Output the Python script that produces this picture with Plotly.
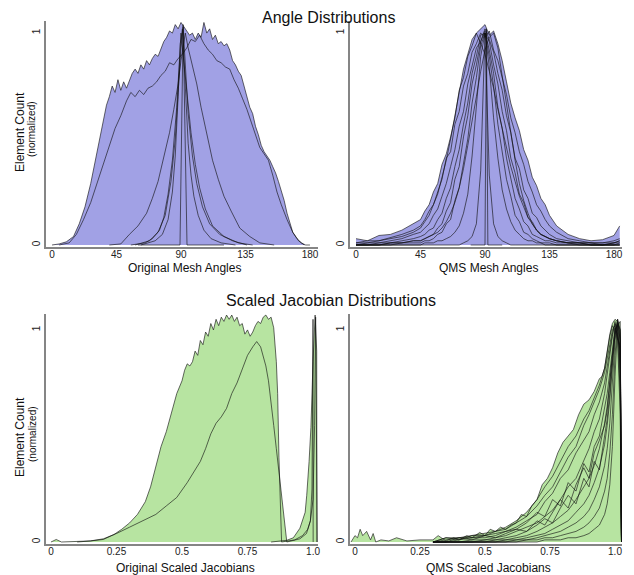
import plotly.graph_objects as go

# ---------------- Top-left: Original Mesh Angles ----------------
TL_A_X = [0, 5, 10, 15, 19, 23, 27, 30, 33, 36,
          38, 40, 42, 44, 46, 48, 50, 52, 54, 56, 58, 60,
          62, 64, 66, 68, 70, 72, 74, 76, 78, 80, 82, 84, 86, 88, 90, 92, 94, 96, 98, 100,
          102, 104, 106, 108, 110, 112, 114, 116, 118, 120, 122, 124, 126, 128, 130, 132, 134, 136, 138, 140,
          142, 144, 146, 148, 150, 152, 154, 156, 158, 160, 162, 164, 166, 168,
          171, 174, 177, 180]
TL_A_Y = [0, 0.005, 0.015, 0.04, 0.1, 0.18, 0.29, 0.39, 0.5, 0.6,
          0.66, 0.7, 0.75, 0.72, 0.78, 0.73, 0.77, 0.74, 0.78, 0.81, 0.83, 0.81,
          0.85, 0.83, 0.87, 0.85, 0.88, 0.9, 0.89, 0.93, 0.96, 0.98, 1.01, 1.0, 1.04, 1.02, 1.05, 1.03, 1.01, 0.99, 1.0, 0.97,
          1.0, 0.98, 1.05, 1.0, 1.02, 0.97, 0.99, 0.95, 0.96, 0.94, 0.95, 0.92, 0.87, 0.85, 0.82, 0.8, 0.75, 0.7, 0.65, 0.62,
          0.56, 0.52, 0.47, 0.44, 0.42, 0.4, 0.37, 0.34, 0.3, 0.26, 0.21, 0.15, 0.1, 0.06,
          0.03, 0.01, 0.0, 0.0]
TL_B_X = [5, 12, 17, 22, 27, 32, 36, 40, 44, 48, 52, 55, 58, 61, 64, 67, 70, 73, 76, 79,
          82, 85, 88, 91, 94, 97, 100, 103, 106, 109, 112, 115, 118, 121, 124, 127, 130, 133, 136, 139,
          142, 145, 148, 151, 154, 157, 160, 164, 168, 172, 176]
TL_B_Y = [0, 0.01, 0.05, 0.12, 0.2, 0.3, 0.38, 0.46, 0.55, 0.61, 0.68, 0.72, 0.7, 0.73, 0.71, 0.74, 0.75, 0.77, 0.8, 0.82,
          0.86, 0.85, 0.88, 0.9, 0.93, 0.97, 0.96, 0.99, 0.95, 0.92, 0.9, 0.87, 0.86, 0.84, 0.83, 0.78, 0.74, 0.69, 0.64, 0.58,
          0.52, 0.46, 0.43, 0.4, 0.33, 0.25, 0.19, 0.12, 0.06, 0.02, 0]
TL_C_X = [40, 48, 54, 60, 66, 70, 74, 78, 82, 85, 88, 90, 92, 93, 95, 98, 101, 104, 108, 112, 116, 120, 125, 131, 138, 145, 155]
TL_C_Y = [0, 0.005, 0.05, 0.09, 0.15, 0.22, 0.3, 0.42, 0.53, 0.64, 0.76, 0.87, 0.95, 1.0, 0.93, 0.84, 0.76, 0.65, 0.53, 0.4,
          0.31, 0.23, 0.16, 0.08, 0.04, 0.01, 0]
TL_D_X = [55, 65, 70, 75, 78, 81, 84, 87, 89, 90, 91, 93, 95, 97, 100, 103, 107, 112, 120, 130, 140]
TL_D_Y = [0, 0.01, 0.03, 0.07, 0.13, 0.24, 0.4, 0.65, 0.88, 1.0, 0.93, 0.8, 0.66, 0.53, 0.38, 0.27, 0.17, 0.09, 0.04, 0.01, 0]
TL_E_X = [62, 72, 77, 81, 84, 86, 88, 89.5, 91, 92, 93.5, 95, 97, 99, 102, 106, 111, 118, 128]
TL_E_Y = [0, 0.02, 0.05, 0.12, 0.25, 0.42, 0.7, 0.95, 1.02, 0.9, 0.66, 0.48, 0.33, 0.23, 0.14, 0.07, 0.03, 0.01, 0]
TL_F_X = [58, 68, 74, 79, 83, 86, 88, 90, 91.5, 93, 95, 98, 101, 105, 110, 117, 126, 136]
TL_F_Y = [0, 0.02, 0.06, 0.14, 0.3, 0.5, 0.72, 0.93, 1.03, 0.85, 0.62, 0.42, 0.29, 0.18, 0.1, 0.05, 0.02, 0]
TL_G_X = [60, 89.3, 91.5, 94.2, 120]
TL_G_Y = [0, 0.0, 1.04, 0.0, 0]

# ---------------- Top-right: QMS Mesh Angles ----------------
TR_X = [0, 8, 16, 24, 32, 40, 45, 48, 51, 54, 57, 60, 63, 66, 69, 72, 75, 78, 81, 84, 87, 90,
        93, 96, 99, 102, 105, 108, 111, 114, 117, 120, 123, 126, 129, 132, 135, 140, 148, 156, 164, 172, 180, 184]
TR_1 = [0.03, 0.02, 0.045, 0.05, 0.07, 0.1, 0.12, 0.16, 0.19, 0.25, 0.29, 0.38, 0.43, 0.51, 0.6, 0.73, 0.79, 0.89, 0.94, 1.0,
        1.02, 1.04, 0.99, 1.01, 0.95, 0.87, 0.77, 0.67, 0.6, 0.54, 0.45, 0.4, 0.32, 0.28, 0.22, 0.19, 0.14, 0.09, 0.05, 0.03,
        0.02, 0.025, 0.045, 0.09]
TR_2 = [0.01, 0.02, 0.02, 0.035, 0.05, 0.07, 0.09, 0.12, 0.16, 0.19, 0.25, 0.31, 0.41, 0.44, 0.57, 0.63, 0.75, 0.81, 0.91, 0.95,
        1.0, 0.98, 1.01, 0.92, 0.87, 0.79, 0.71, 0.6, 0.53, 0.44, 0.38, 0.3, 0.25, 0.19, 0.16, 0.12, 0.09, 0.06, 0.03, 0.02,
        0.01, 0.01, 0.02, 0.03]
TR_3 = [0.0, 0.01, 0.01, 0.02, 0.03, 0.05, 0.06, 0.08, 0.1, 0.14, 0.17, 0.23, 0.29, 0.37, 0.45, 0.56, 0.63, 0.76, 0.84, 0.93,
        0.96, 1.02, 0.97, 0.91, 0.81, 0.73, 0.61, 0.53, 0.41, 0.36, 0.26, 0.22, 0.15, 0.13, 0.09, 0.07, 0.05, 0.03, 0.02, 0.01,
        0.01, 0.0, 0.01, 0.02]
TR_4 = [0, 0, 0.01, 0.01, 0.02, 0.03, 0.04, 0.05, 0.07, 0.08, 0.12, 0.15, 0.22, 0.27, 0.37, 0.45, 0.57, 0.67, 0.81, 0.89,
        0.99, 1.0, 0.96, 0.85, 0.76, 0.63, 0.54, 0.41, 0.34, 0.24, 0.2, 0.13, 0.11, 0.07, 0.05, 0.04, 0.03, 0.02, 0.01, 0.01,
        0, 0, 0.01, 0.01]
TR_5 = [0, 0, 0, 0.01, 0.01, 0.02, 0.02, 0.03, 0.04, 0.05, 0.08, 0.1, 0.16, 0.2, 0.31, 0.37, 0.51, 0.61, 0.76, 0.85,
        0.96, 1.01, 0.92, 0.81, 0.65, 0.55, 0.41, 0.32, 0.22, 0.17, 0.11, 0.09, 0.05, 0.04, 0.03, 0.02, 0.02, 0.01, 0.01, 0,
        0, 0, 0, 0]
TR_6 = [0, 0, 0, 0, 0.01, 0.01, 0.01, 0.02, 0.02, 0.03, 0.05, 0.06, 0.1, 0.12, 0.21, 0.27, 0.39, 0.5, 0.67, 0.79,
        0.94, 1.0, 0.89, 0.75, 0.57, 0.45, 0.31, 0.23, 0.14, 0.11, 0.06, 0.05, 0.03, 0.02, 0.01, 0.01, 0.01, 0, 0, 0,
        0, 0, 0, 0]
TR_7 = [0, 0, 0, 0, 0, 0, 0, 0.01, 0.01, 0.01, 0.02, 0.02, 0.03, 0.04, 0.06, 0.09, 0.15, 0.24, 0.42, 0.64,
        0.89, 1.0, 0.84, 0.6, 0.41, 0.26, 0.17, 0.11, 0.07, 0.05, 0.03, 0.02, 0.02, 0.01, 0.01, 0, 0, 0, 0, 0,
        0, 0, 0, 0]
TR_8 = [0, 0, 0, 0, 0, 0, 0, 0, 0, 0, 0, 0, 0, 0, 0, 0, 0.01, 0.02, 0.04, 0.1,
        0.35, 1.0, 0.33, 0.1, 0.04, 0.02, 0.01, 0, 0, 0, 0, 0, 0, 0, 0, 0, 0, 0, 0, 0,
        0, 0, 0, 0]
TR_9 = [0.01, 0.01, 0.02, 0.03, 0.04, 0.06, 0.08, 0.11, 0.14, 0.19, 0.24, 0.32, 0.4, 0.5, 0.62, 0.72, 0.83, 0.9, 0.97, 1.0,
        0.95, 0.9, 0.82, 0.74, 0.64, 0.55, 0.46, 0.37, 0.3, 0.23, 0.18, 0.13, 0.1, 0.07, 0.05, 0.04, 0.03, 0.02, 0.01, 0.01,
        0.01, 0.01, 0.01, 0.02]
TR_10 = [0, 0, 0, 0.01, 0.01, 0.02, 0.02, 0.03, 0.04, 0.05, 0.06, 0.08, 0.11, 0.15, 0.2, 0.27, 0.36, 0.47, 0.58, 0.7,
         0.82, 0.92, 0.98, 1.0, 0.93, 0.8, 0.66, 0.52, 0.4, 0.29, 0.21, 0.15, 0.1, 0.07, 0.05, 0.04, 0.03, 0.02, 0.01, 0.01,
         0, 0, 0, 0.01]
TR_S_X = [80, 90, 91, 92, 102]
TR_S_Y = [0, 0.0, 1.02, 0.0, 0]

# ---------------- Bottom-left: Original Scaled Jacobians ----------------
BL_A_X = [0, 0.02, 0.04, 0.1, 0.15, 0.2, 0.24, 0.27, 0.3, 0.33, 0.36, 0.38, 0.4, 0.42, 0.44, 0.46, 0.48, 0.5,
          0.51, 0.52, 0.53, 0.54, 0.55, 0.56, 0.57, 0.58, 0.59, 0.6,
          0.61, 0.62, 0.63, 0.64, 0.65, 0.66, 0.67, 0.68, 0.69, 0.7,
          0.71, 0.72, 0.73, 0.74, 0.75, 0.76, 0.77, 0.78, 0.79, 0.8,
          0.81, 0.82, 0.83, 0.84, 0.85, 0.86, 0.865, 0.87, 0.875, 0.88]
BL_A_Y = [0, 0.012, 0.0, 0.002, 0.005, 0.012, 0.035, 0.06, 0.09, 0.13, 0.19, 0.26, 0.35, 0.45, 0.52, 0.61, 0.7, 0.76,
          0.81, 0.84, 0.83, 0.85, 0.9, 0.88, 0.95, 0.93, 0.99, 0.97,
          1.03, 1.0, 1.05, 1.02, 1.06, 1.04, 1.07, 1.05, 1.07, 1.04,
          1.06, 1.02, 1.03, 0.98, 1.0, 0.97, 0.99, 1.02, 1.04, 1.03,
          1.06, 1.07, 1.05, 1.06, 1.01, 0.85, 0.7, 0.4, 0.15, 0.0]
BL_B_X = [0.1, 0.15, 0.2, 0.25, 0.3, 0.35, 0.4, 0.44, 0.48, 0.52, 0.55, 0.57, 0.59, 0.61, 0.63, 0.65, 0.67, 0.69, 0.71, 0.73,
          0.75, 0.77, 0.785, 0.8, 0.81, 0.82, 0.83, 0.84, 0.85, 0.86, 0.87, 0.88, 0.89, 0.9]
BL_B_Y = [0, 0.005, 0.015, 0.04, 0.07, 0.1, 0.13, 0.17, 0.21, 0.28, 0.34, 0.38, 0.44, 0.51, 0.56, 0.59, 0.63, 0.7, 0.75, 0.82,
          0.88, 0.92, 0.945, 0.92, 0.88, 0.83, 0.76, 0.64, 0.55, 0.44, 0.33, 0.2, 0.08, 0.0]
BL_C_X = [0.84, 0.875, 0.9, 0.925, 0.95, 0.97, 0.976, 0.985, 0.992, 1.0, 1.008, 1.014, 1.015]
BL_C_Y = [0, 0.003, 0.008, 0.02, 0.065, 0.14, 0.22, 0.38, 0.54, 0.85, 1.07, 0.9, 0]
BL_D_X = [0.88, 0.93, 0.96, 0.98, 0.99, 1.0, 1.006, 1.01, 1.016]
BL_D_Y = [0, 0.01, 0.03, 0.06, 0.1, 0.2, 0.55, 1.06, 0]
BL_E_X = [0.9, 0.95, 0.975, 0.99, 0.996, 1.0, 1.0005]
BL_E_Y = [0, 0.015, 0.04, 0.1, 0.25, 1.05, 0]

# ---------------- Bottom-right: QMS Scaled Jacobians ----------------
BR_X = [-0.015, 0.0, 0.01, 0.02, 0.03, 0.045, 0.06, 0.07, 0.08, 0.1,
        0.13, 0.16, 0.2, 0.25, 0.3, 0.32, 0.35, 0.38, 0.4, 0.43,
        0.45, 0.48, 0.5, 0.52, 0.54, 0.56, 0.58, 0.6, 0.62, 0.64,
        0.66, 0.68, 0.7, 0.72, 0.74, 0.76, 0.78, 0.8, 0.82, 0.84,
        0.86, 0.88, 0.9, 0.92, 0.94, 0.95, 0.96, 0.97, 0.98, 0.99,
        1.0, 1.01, 1.02, 1.025]
BR_E = [0.0, 0.03, 0.02, 0.06, 0.03, 0.05, 0.01, 0.04, 0.0, 0.01,
        0.005, 0.02, 0.005, 0.01, 0.01, 0.03, 0.005, 0.02, 0.01, 0.03,
        0.02, 0.045, 0.03, 0.06, 0.05, 0.07, 0.06, 0.08, 0.09, 0.13,
        0.12, 0.17, 0.2, 0.27, 0.3, 0.35, 0.42, 0.47, 0.5, 0.53,
        0.6, 0.65, 0.67, 0.71, 0.77, 0.78, 0.82, 0.9, 0.98, 1.03,
        1.05, 1.04, 0.98, 0.0]
BR_XI = [0.3, 0.35, 0.4, 0.45, 0.5, 0.54, 0.58, 0.62, 0.66, 0.7, 0.73, 0.76, 0.79, 0.82, 0.85, 0.88, 0.9, 0.92, 0.94, 0.96,
         0.97, 0.98, 0.99, 1.0, 1.01, 1.02, 1.025]
BR_1 = [0.0, 0.02, 0.02, 0.03, 0.04, 0.05, 0.06, 0.09, 0.12, 0.17, 0.22, 0.26, 0.33, 0.4, 0.45, 0.55, 0.6, 0.66, 0.72, 0.8,
        0.86, 0.93, 1.0, 1.02, 0.97, 0.9, 0]
BR_2 = [0.0, 0.01, 0.02, 0.02, 0.03, 0.04, 0.05, 0.07, 0.1, 0.13, 0.19, 0.23, 0.3, 0.34, 0.42, 0.48, 0.52, 0.6, 0.66, 0.75,
        0.83, 0.9, 0.98, 1.03, 1.0, 0.85, 0]
BR_3 = [0, 0, 0.01, 0.02, 0.02, 0.03, 0.05, 0.06, 0.09, 0.14, 0.12, 0.2, 0.17, 0.28, 0.24, 0.37, 0.33, 0.45, 0.5, 0.63,
        0.7, 0.8, 0.92, 1.01, 0.98, 0.7, 0]
BR_4 = [0, 0, 0, 0.01, 0.01, 0.02, 0.03, 0.05, 0.07, 0.09, 0.12, 0.15, 0.2, 0.26, 0.3, 0.38, 0.44, 0.52, 0.58, 0.7,
        0.78, 0.88, 0.97, 1.04, 0.95, 0.6, 0]
BR_5 = [0, 0, 0, 0, 0.01, 0.01, 0.02, 0.03, 0.05, 0.08, 0.11, 0.09, 0.16, 0.22, 0.18, 0.3, 0.26, 0.38, 0.34, 0.5,
        0.58, 0.7, 0.85, 1.0, 1.02, 0.8, 0]
BR_6 = [0, 0, 0, 0, 0, 0.01, 0.01, 0.02, 0.03, 0.05, 0.07, 0.09, 0.12, 0.15, 0.2, 0.26, 0.3, 0.36, 0.44, 0.56,
        0.64, 0.76, 0.9, 1.0, 1.03, 0.9, 0]
BR_7 = [0, 0, 0, 0, 0, 0, 0.01, 0.01, 0.02, 0.03, 0.04, 0.06, 0.08, 0.1, 0.14, 0.18, 0.22, 0.28, 0.35, 0.46,
        0.55, 0.67, 0.83, 0.98, 1.04, 0.95, 0]
BR_8 = [0, 0, 0, 0, 0, 0, 0, 0.01, 0.01, 0.02, 0.03, 0.04, 0.05, 0.07, 0.09, 0.12, 0.15, 0.2, 0.26, 0.36,
        0.44, 0.56, 0.74, 0.95, 1.05, 1.0, 0]
BR_9 = [0, 0, 0, 0, 0, 0, 0, 0, 0.01, 0.01, 0.02, 0.02, 0.03, 0.04, 0.05, 0.07, 0.09, 0.12, 0.16, 0.24,
        0.3, 0.42, 0.6, 0.88, 1.03, 1.0, 0]
BR_10 = [0, 0, 0, 0, 0, 0, 0, 0, 0, 0, 0.01, 0.01, 0.01, 0.02, 0.02, 0.03, 0.04, 0.06, 0.08, 0.13,
         0.18, 0.27, 0.45, 0.78, 1.02, 1.04, 0]
BR_11 = [0.0, 0.0, 0.02, 0.01, 0.03, 0.02, 0.04, 0.06, 0.05, 0.1, 0.08, 0.14, 0.2, 0.16, 0.27, 0.35, 0.3, 0.42, 0.48, 0.55,
         0.62, 0.75, 0.88, 0.97, 1.05, 0.95, 0]
BR_12 = [0.0, 0.02, 0.01, 0.03, 0.03, 0.05, 0.07, 0.1, 0.14, 0.2, 0.26, 0.31, 0.38, 0.45, 0.5, 0.58, 0.62, 0.68, 0.74, 0.82,
         0.9, 0.97, 1.02, 1.0, 0.96, 0.92, 0]

ANGLE_TICKS = [0, 45, 90, 135, 180]
JAC_TICKS = [0, 0.25, 0.5, 0.75, 1.0]
JAC_TICKTEXT = ["0", "0.25", "0.5", "0.75", "1.0"]

BLUE = "#a1a1e5"
GREEN = "#b7e4a1"
LINE = "rgba(15,15,15,0.78)"
AXIS = "#858585"
FONT = "Liberation Sans, Arial, Helvetica, sans-serif"

panels = [
    ("x", "y", BLUE, [(TL_A_X, TL_A_Y), (TL_B_X, TL_B_Y), (TL_C_X, TL_C_Y), (TL_D_X, TL_D_Y),
                      (TL_E_X, TL_E_Y), (TL_F_X, TL_F_Y), (TL_G_X, TL_G_Y)]),
    ("x2", "y2", BLUE, [(TR_X, TR_1), (TR_X, TR_2), (TR_X, TR_3), (TR_X, TR_4), (TR_X, TR_5),
                        (TR_X, TR_6), (TR_X, TR_7), (TR_X, TR_8), (TR_X, TR_9), (TR_X, TR_10),
                        (TR_S_X, TR_S_Y)]),
    ("x3", "y3", GREEN, [(BL_A_X, BL_A_Y), (BL_B_X, BL_B_Y), (BL_C_X, BL_C_Y), (BL_D_X, BL_D_Y), (BL_E_X, BL_E_Y)]),
    ("x4", "y4", GREEN, [(BR_X, BR_E), (BR_XI, BR_1), (BR_XI, BR_2), (BR_XI, BR_3), (BR_XI, BR_4), (BR_XI, BR_5),
                         (BR_XI, BR_6), (BR_XI, BR_7), (BR_XI, BR_8), (BR_XI, BR_9), (BR_XI, BR_10),
                         (BR_XI, BR_11), (BR_XI, BR_12)]),
]

fig = go.Figure()
for xa, ya, col, curves in panels:
    for cx, cy in curves:
        fig.add_trace(go.Scatter(x=cx, y=cy, xaxis=xa, yaxis=ya, mode="lines", fill="tozeroy",
                                 fillcolor=col, line=dict(width=0), hoverinfo="skip", showlegend=False))
    for cx, cy in curves:
        fig.add_trace(go.Scatter(x=cx, y=cy, xaxis=xa, yaxis=ya, mode="lines",
                                 line=dict(color=LINE, width=0.8), hoverinfo="skip", showlegend=False))

W, H = 634, 575
OFF = 8  # the page body adds an 8px margin around the figure


def xd(a, b):
    return [(a - OFF) / W, (b - OFF) / W]


def yd(top, bottom):
    return [(H - (bottom - OFF)) / H, (H - (top - OFF)) / H]


common_x = dict(showline=True, linecolor=AXIS, linewidth=2, ticks="", ticklen=0, showgrid=False, zeroline=False,
                ticklabelstandoff=-3,
                tickfont=dict(size=10, color="#222"), automargin=False, fixedrange=True)
common_y = dict(showline=True, linecolor=AXIS, linewidth=2, ticks="", ticklen=0, showgrid=False, zeroline=False,
                tickvals=[0, 1], ticktext=["0", "1"], tickangle=-90,
                tickfont=dict(size=10, color="#222"), automargin=False, fixedrange=True)

fig.update_layout(
    width=W, height=H,
    margin=dict(l=0, r=0, t=0, b=0),
    paper_bgcolor="white", plot_bgcolor="white",
    font=dict(family=FONT, color="#111"),
    showlegend=False,
    xaxis=dict(common_x, domain=xd(46, 318), range=[-4.19, 185.6], tickvals=ANGLE_TICKS, anchor="y"),
    yaxis=dict(common_y, domain=yd(21, 247), range=[-0.0094, 1.057], anchor="x"),
    xaxis2=dict(common_x, domain=xd(350, 622), range=[-4.19, 185.6], tickvals=ANGLE_TICKS, anchor="y2"),
    yaxis2=dict(common_y, domain=yd(21, 247), range=[-0.0094, 1.057], anchor="x2"),
    xaxis3=dict(common_x, domain=xd(46, 318), range=[-0.019, 1.019], tickvals=JAC_TICKS,
                ticktext=JAC_TICKTEXT, anchor="y3"),
    yaxis3=dict(common_y, domain=yd(314, 544), range=[-0.0094, 1.075], anchor="x3"),
    xaxis4=dict(common_x, domain=xd(350, 622), range=[-0.019, 1.0269], tickvals=JAC_TICKS,
                ticktext=JAC_TICKTEXT, anchor="y4"),
    yaxis4=dict(common_y, domain=yd(314, 544), range=[-0.0094, 1.075], anchor="x4"),
)


def ann(text, px, py, size, angle=0):
    fig.add_annotation(text=text, x=(px - OFF) / W, y=(H - (py - OFF)) / H, xref="paper", yref="paper",
                       showarrow=False, xanchor="center", yanchor="middle", textangle=angle,
                       font=dict(size=size, family=FONT, color="#111"))


ann("Angle Distributions", 328, 17, 16)
ann("Scaled Jacobian Distributions", 331, 300, 16)
ann("Original Mesh Angles", 184, 268, 12)
ann("QMS Mesh Angles", 489, 268, 12)
ann("Original Scaled Jacobians", 185, 568, 12)
ann("QMS Scaled Jacobians", 489, 568, 12)
ann("Element Count", 20, 132, 12, -90)
ann("(normalized)", 32, 129, 10, -90)
ann("Element Count", 20, 437, 12, -90)
ann("(normalized)", 32, 434, 10, -90)

fig.write_html("out.html")
